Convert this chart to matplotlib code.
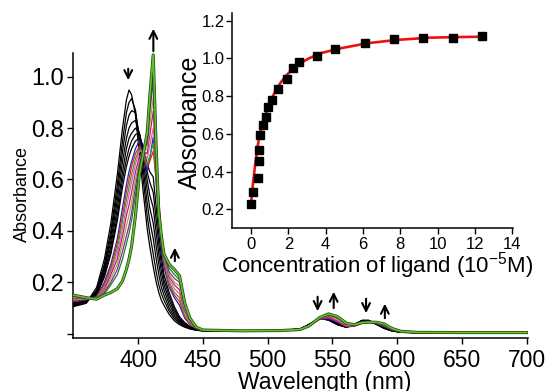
import matplotlib
matplotlib.use('Agg')
import matplotlib.pyplot as plt

plt.rcParams['font.family'] = ['Liberation Sans', 'DejaVu Sans']
plt.rcParams['mathtext.fontset'] = 'custom'
plt.rcParams['mathtext.rm'] = 'Liberation Sans'
plt.rcParams['mathtext.it'] = 'Liberation Sans'
plt.rcParams['axes.unicode_minus'] = True

# ---------------- data: UV-vis titration spectra ----------------
wavelength = [350, 360, 368, 374, 379, 384, 388, 391, 393, 395, 398, 401, 404, 407, 409,
              411.7, 414, 416, 418, 420, 424, 428, 432, 436, 440, 445, 450, 480, 510,
              525, 532, 540, 547, 554, 561, 567, 573, 578, 584, 590, 596, 603, 615, 650, 700]

spec_b1 = [.105, .118, .18, .29, .43, .62, .80, .91, .948, .93, .85, .70, .55, .41, .34,
           .26, .20, .16, .13, .11, .075, .05, .035, .025, .018, .013, .011,
           .010, .012, .018, .036, .060, .053, .034, .024, .036, .052, .052, .036, .020, .010, .005, .003, .003, .003]
spec_b2 = [.108, .12, .17, .27, .40, .58, .75, .86, .90, .915, .87, .75, .60, .46, .39,
           .31, .24, .19, .155, .13, .088, .058, .04, .028, .02, .014, .011,
           .010, .012, .018, .036, .059, .053, .035, .025, .036, .051, .051, .036, .021, .011, .006, .004, .003, .003]
spec_b3 = [.11, .122, .165, .26, .38, .55, .71, .81, .85, .868, .86, .77, .64, .51, .44,
           .37, .29, .23, .18, .15, .10, .066, .045, .03, .021, .015, .011,
           .010, .012, .018, .035, .059, .054, .036, .025, .035, .051, .051, .037, .021, .011, .006, .004, .003, .003]
spec_b4 = [.112, .124, .16, .25, .36, .52, .67, .76, .80, .82, .83, .78, .67, .56, .49,
           .43, .34, .27, .21, .17, .115, .075, .05, .033, .022, .015, .011,
           .010, .012, .018, .035, .058, .054, .037, .026, .035, .050, .050, .037, .022, .011, .006, .004, .003, .003]
spec_b5 = [.115, .126, .155, .24, .34, .49, .63, .72, .76, .78, .80, .78, .70, .60, .54,
           .49, .39, .31, .24, .19, .13, .085, .055, .036, .024, .016, .012,
           .010, .012, .018, .035, .058, .055, .038, .026, .035, .050, .050, .037, .022, .012, .006, .004, .003, .003]
spec_b6 = [.118, .128, .15, .23, .32, .46, .60, .68, .72, .75, .775, .78, .72, .63, .59,
           .55, .44, .35, .27, .21, .145, .095, .06, .04, .026, .017, .012,
           .010, .012, .017, .034, .057, .055, .039, .027, .034, .049, .049, .038, .023, .012, .006, .004, .003, .003]
spec_b7 = [.12, .13, .148, .22, .31, .44, .57, .65, .69, .72, .75, .76, .73, .66, .63,
           .61, .49, .39, .30, .23, .16, .105, .066, .043, .028, .018, .012,
           .010, .012, .017, .034, .057, .056, .040, .027, .034, .048, .049, .038, .024, .012, .006, .004, .003, .003]

spec_blue = [.125, .132, .145, .20, .27, .37, .49, .58, .63, .67, .72, .75, .69, .63, .68,
             .765, .58, .44, .33, .26, .18, .14, .11, .06, .035, .02, .013,
             .010, .012, .017, .033, .056, .058, .045, .028, .033, .047, .048, .040, .028, .014, .007, .004, .003, .003]
spec_red = [.128, .133, .142, .19, .26, .35, .46, .55, .60, .65, .70, .73, .69, .65, .67,
            .71, .60, .46, .35, .28, .19, .15, .125, .065, .037, .02, .013,
            .010, .012, .017, .032, .057, .062, .048, .030, .032, .045, .046, .041, .030, .015, .007, .004, .003, .003]
spec_green = [.132, .134, .14, .18, .25, .33, .44, .52, .57, .62, .68, .72, .70, .66, .69,
              .74, .62, .48, .37, .29, .20, .16, .14, .07, .04, .021, .013,
              .011, .012, .017, .032, .058, .065, .050, .031, .032, .044, .045, .041, .031, .016, .008, .004, .003, .003]
spec_pink = [.135, .135, .138, .175, .24, .31, .41, .49, .54, .59, .66, .71, .71, .68, .73,
             .80, .64, .50, .38, .30, .21, .175, .155, .08, .043, .022, .013,
             .011, .012, .016, .031, .058, .067, .052, .032, .032, .044, .045, .042, .033, .017, .008, .005, .004, .004]
spec_magenta = [.138, .136, .137, .17, .23, .29, .38, .46, .50, .55, .63, .69, .71, .70, .77,
                .865, .66, .52, .39, .31, .22, .19, .17, .09, .047, .023, .013,
                .011, .012, .016, .030, .055, .066, .046, .027, .028, .040, .042, .041, .033, .017, .008, .005, .004, .004]
spec_olive = [.142, .137, .136, .165, .215, .27, .35, .42, .46, .51, .60, .67, .71, .72, .81,
              .92, .68, .52, .39, .31, .23, .20, .185, .10, .05, .024, .013,
              .011, .012, .016, .031, .059, .071, .058, .035, .033, .043, .044, .043, .035, .018, .008, .005, .004, .004]
spec_purple = [.145, .138, .135, .16, .20, .25, .32, .38, .42, .47, .57, .66, .71, .74, .86,
               .98, .70, .51, .38, .31, .24, .215, .20, .11, .055, .025, .013,
               .011, .012, .016, .030, .060, .073, .060, .037, .034, .043, .044, .043, .036, .019, .009, .005, .004, .004]
spec_dgreen = [.148, .139, .134, .155, .19, .23, .29, .35, .39, .44, .54, .64, .70, .76, .89,
               1.03, .71, .49, .38, .31, .255, .23, .21, .115, .057, .025, .013,
               .011, .012, .016, .030, .061, .075, .063, .039, .034, .043, .045, .044, .037, .019, .009, .005, .004, .004]
spec_final = [.15, .14, .134, .15, .16, .175, .205, .25, .29, .34, .46, .62, .70, .78, .92,
              1.085, .72, .47, .38, .31, .27, .25, .225, .12, .06, .025, .014,
              .011, .012, .016, .030, .062, .077, .066, .040, .035, .043, .045, .044, .038, .020, .009, .005, .004, .004]

# ---------------- data: binding isotherm (inset) ----------------
conc = [0, 0.09, 0.36, 0.41, 0.45, 0.5, 0.66, 0.80, 0.93, 1.11, 1.45, 1.95, 2.27, 2.59,
        3.55, 4.5, 6.11, 7.66, 9.23, 10.8, 12.36]
absorb = [0.227, 0.29, 0.368, 0.454, 0.514, 0.596, 0.647, 0.691, 0.742, 0.78, 0.838, 0.889,
          0.947, 0.983, 1.013, 1.048, 1.08, 1.103, 1.11, 1.11, 1.117]
fit_x = [0, 0.1, 0.21, 0.35, 0.48, 0.65, 0.85, 1.1, 1.375, 1.65, 1.91, 2.25, 2.63, 3.1,
         3.7, 4.77, 6.2, 7.8, 9.59, 11.0, 12.36]
fit_y = [0.225, 0.33, 0.426, 0.53, 0.603, 0.665, 0.72, 0.785, 0.841, 0.88, 0.912, 0.945,
         0.974, 1.0, 1.027, 1.053, 1.08, 1.098, 1.11, 1.113, 1.115]

main_xticks = [400, 450, 500, 550, 600, 650, 700]
main_yticks = [0.0, 0.2, 0.4, 0.6, 0.8, 1.0]
main_yticklabels = ['', '0.2', '0.4', '0.6', '0.8', '1.0']
inset_xticks = [0, 2, 4, 6, 8, 10, 12, 14]
inset_yticks = [0.2, 0.4, 0.6, 0.8, 1.0, 1.2]

black_specs = [spec_b1, spec_b2, spec_b3, spec_b4, spec_b5, spec_b6, spec_b7]
color_specs = [(spec_blue, '#2323b4'), (spec_red, '#e02424'), (spec_green, '#2f9f2f'),
               (spec_pink, '#e060a8'), (spec_magenta, '#c2187c'), (spec_olive, '#a4a43c'),
               (spec_purple, '#7a2aa4'), (spec_dgreen, '#2a7a2a')]

# ---------------- figure ----------------
fig = plt.figure(figsize=(5.49, 3.91), dpi=100)
W, H = 549.0, 391.0

ax = fig.add_axes([73.3 / W, 1 - 338 / H, (528 - 73.3) / W, (338 - 53.3) / H])
for s in black_specs:
    ax.plot(wavelength, s, color='black', lw=0.9, zorder=3)
for s, c in color_specs:
    ax.plot(wavelength, s, color=c, lw=0.9, zorder=4)
ax.plot(wavelength, spec_final, color='#1f3f10', lw=2.2, zorder=5)
ax.plot(wavelength, spec_final, color='#5cc42a', lw=1.2, zorder=6)

ax.set_xlim(350, 701)
ax.set_ylim(-0.017, 1.091)
ax.set_xticks(main_xticks)
ax.set_yticks(main_yticks)
ax.set_yticklabels(main_yticklabels)
for side in ['top', 'right']:
    ax.spines[side].set_visible(False)
for side in ['left', 'bottom']:
    ax.spines[side].set_linewidth(1.1)
ax.tick_params(axis='both', direction='out', length=4.5, width=1.0)
ax.tick_params(axis='x', pad=3.5, labelsize=16.5)
ax.tick_params(axis='y', pad=2, labelsize=17)

ax.set_xlabel('Wavelength (nm)', fontsize=16.5)
ax.xaxis.set_label_coords((325 - 73.3) / (528 - 73.3), (338 - 383) / (338 - 53.3))
ax.xaxis.label.set_va('center')

ax.set_ylabel('Absorbance', fontsize=13)
ax.yaxis.set_label_coords((22.5 - 73.3) / (528 - 73.3), (338 - 193.5) / (338 - 53.3))
ax.yaxis.label.set_va('center')

# arrows on main plot
arrow_kw = dict(arrowstyle='->', lw=1.5, color='black', mutation_scale=14)
def px_to_y(py):
    return (333.7 - py) / 257.0

def arrow(xnm, y_tail_px, y_tip_px):
    ax.annotate('', xy=(xnm, px_to_y(y_tip_px)), xytext=(xnm, px_to_y(y_tail_px)),
                arrowprops=arrow_kw, annotation_clip=False)

arrow(392.4, 66, 83)      # down, Soret
arrow(411.8, 54, 26)      # up, Soret
arrow(428.4, 264, 245)    # up, shoulder
arrow(538.6, 294, 314)    # down Q
arrow(551.0, 311, 289)    # up Q
arrow(576.0, 296, 316)    # down Q
arrow(590.5, 321, 301)    # up Q

# ---------------- inset ----------------
ax2 = fig.add_axes([232.3 / W, 1 - 228.3 / H, (513.3 - 232.3) / W, (228.3 - 13.3) / H])
ax2.plot(fit_x, fit_y, color='#ee1111', lw=1.9, zorder=3)
ax2.plot(conc, absorb, linestyle='none', marker='s', markersize=5.2, color='black', zorder=4)
ax2.set_xlim(-1.0, 14.05)
ax2.set_ylim(0.1, 1.239)
ax2.set_xticks(inset_xticks)
ax2.set_yticks(inset_yticks)
ax2.set_yticklabels([f'{v:.1f}' for v in inset_yticks])
for side in ['top', 'right']:
    ax2.spines[side].set_visible(False)
for side in ['left', 'bottom']:
    ax2.spines[side].set_linewidth(1.1)
ax2.tick_params(axis='both', direction='out', length=4, width=1.0, labelsize=12)
ax2.tick_params(axis='x', pad=2)
ax2.tick_params(axis='y', pad=1.5)
ax2.patch.set_alpha(0)

ax2.set_xlabel('Concentration of ligand (10$^{-5}$M)', fontsize=16)
ax2.xaxis.set_label_coords((377 - 232.3) / 281.0, (228.3 - 266) / 215.0)
ax2.xaxis.label.set_va('center')
ax2.set_ylabel('Absorbance', fontsize=18)
ax2.yaxis.set_label_coords((189.5 - 232.3) / 281.0, (228.3 - 122.5) / 215.0)
ax2.yaxis.label.set_va('center')

fig.savefig('out.png', dpi=100)
